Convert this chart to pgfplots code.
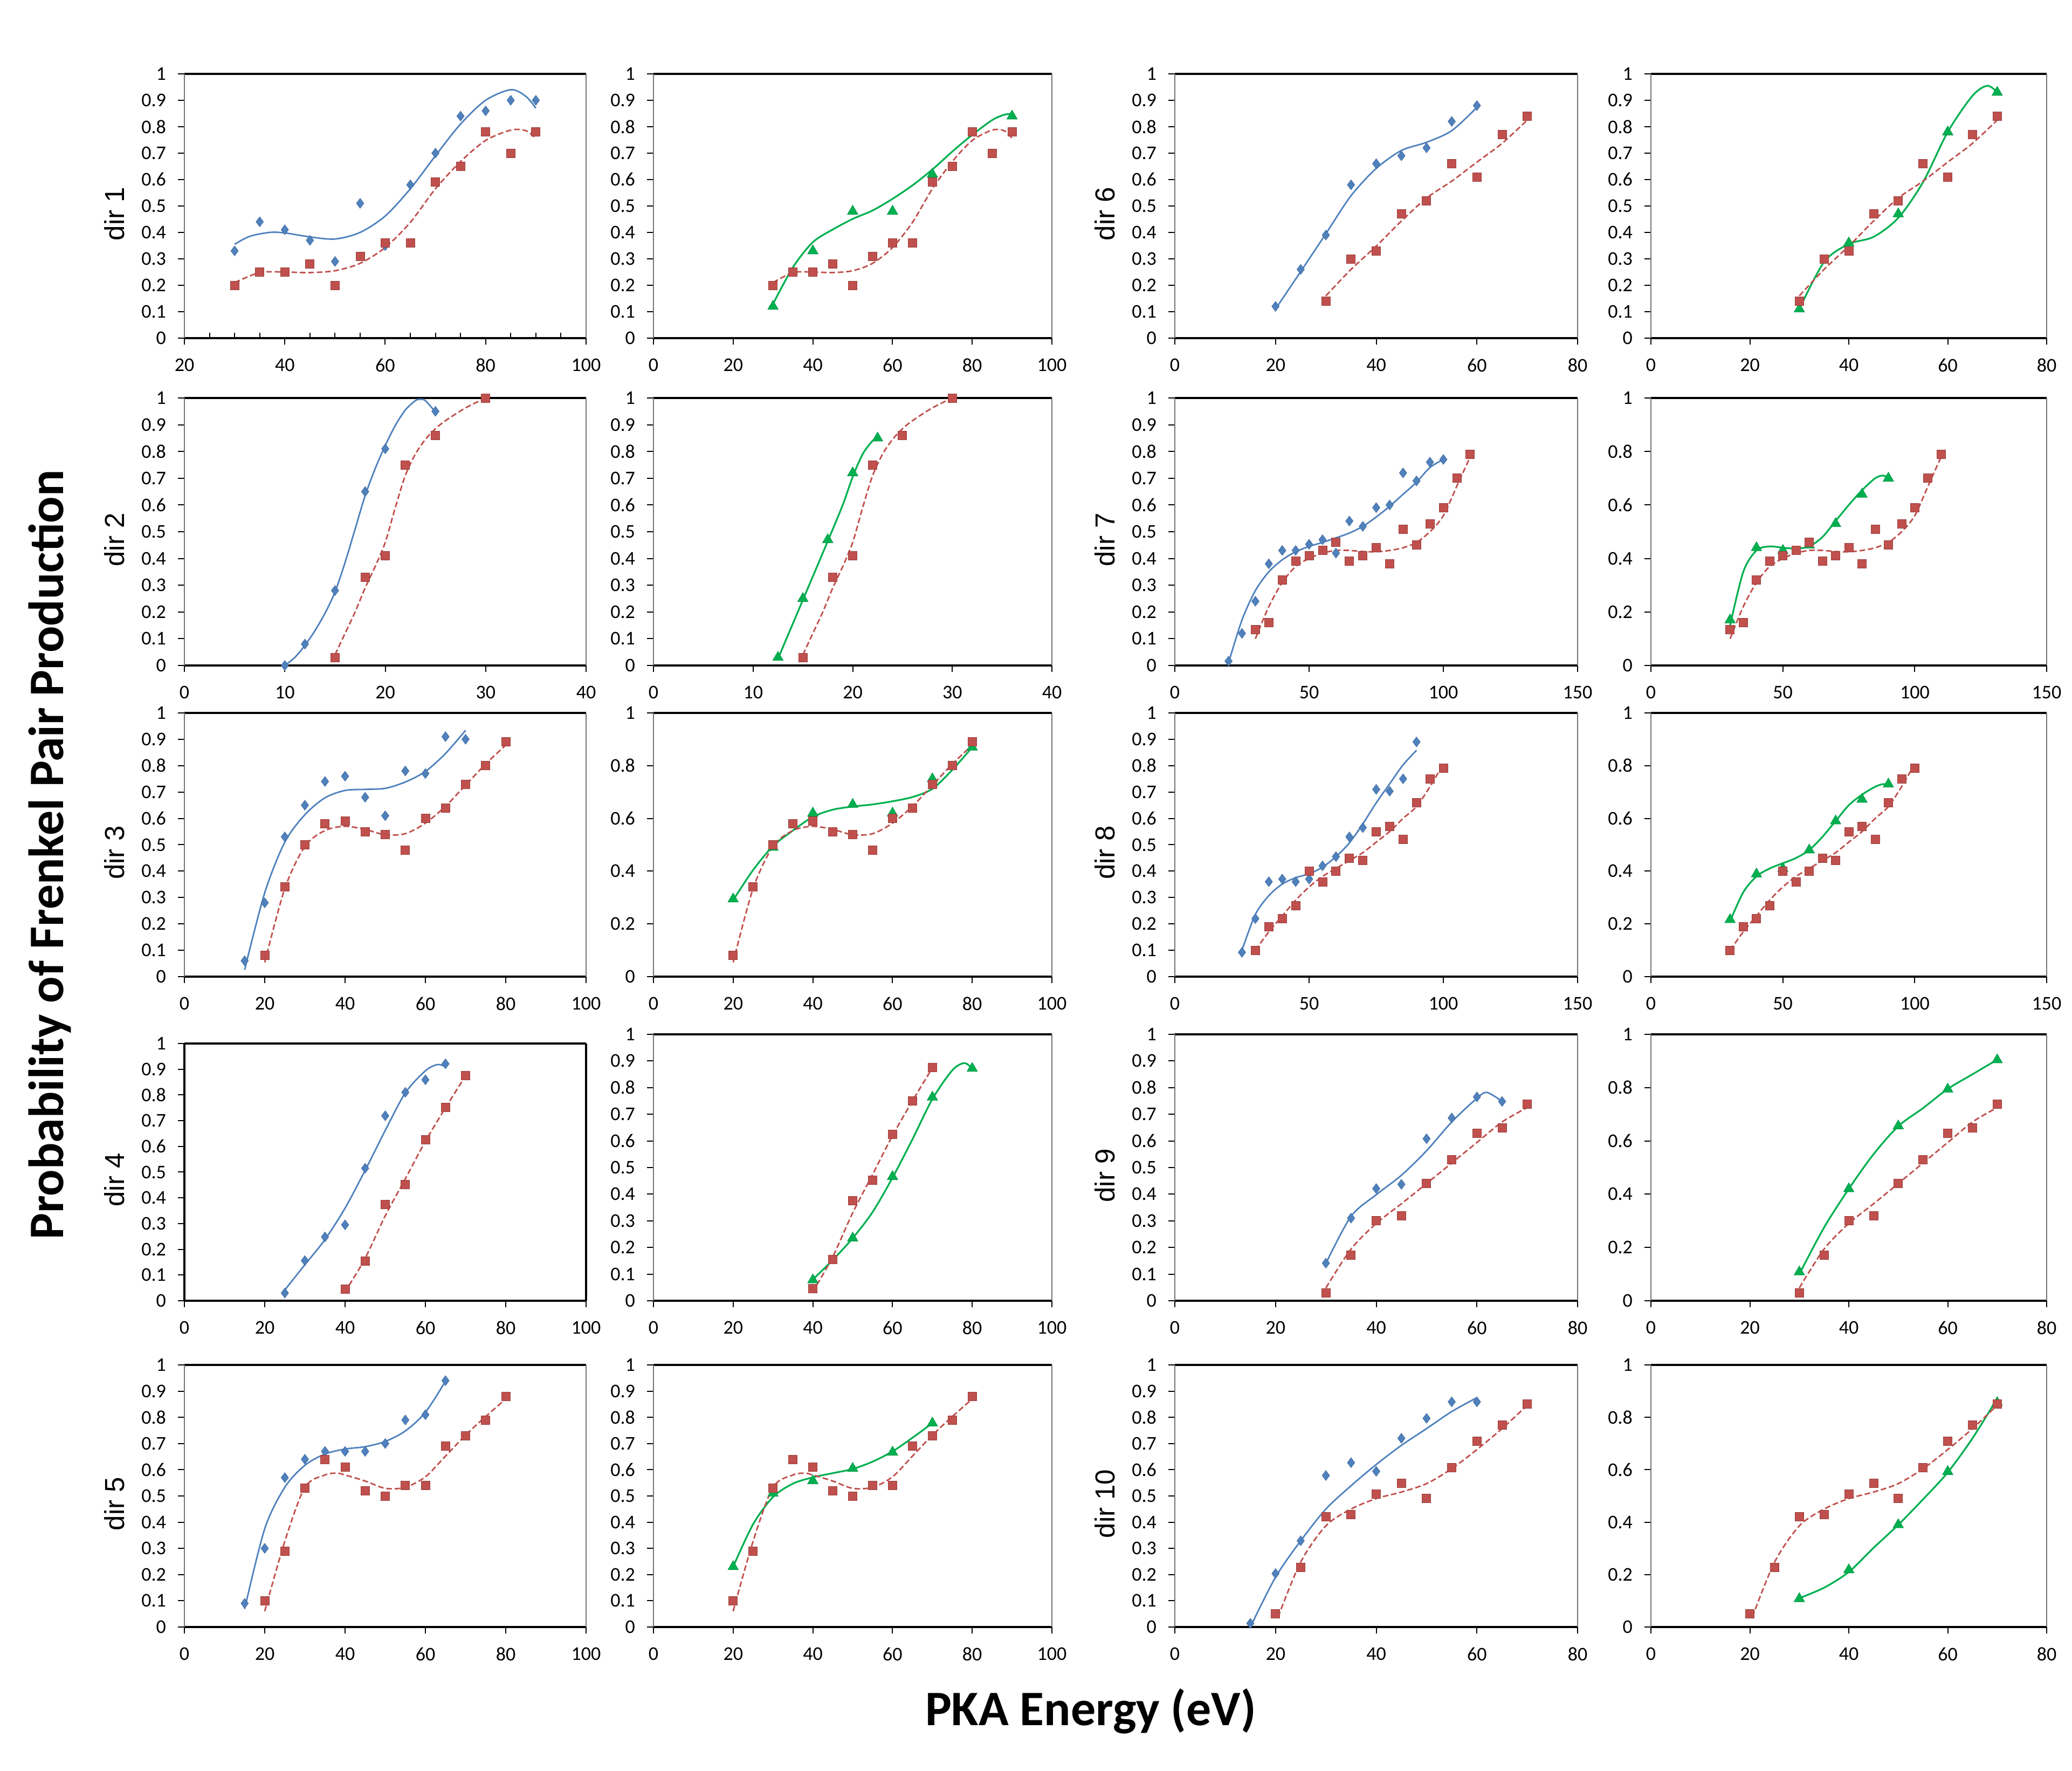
\documentclass[border=0pt]{standalone}
\usepackage{pgfplots}
\pgfplotsset{compat=1.18}
\usepackage{pgfplotstable}
\usepackage{fontspec}
\setmainfont{Carlito}
\newfontfamily\arialf{Liberation Sans}
\definecolor{xblue}{HTML}{4F81BD}
\definecolor{xred}{HTML}{C0504D}
\definecolor{xgreen}{HTML}{00B050}
\newcommand\tickf{\fontsize{9pt}{10pt}\selectfont}
\newcommand\dirf{\arialf\fontsize{12.75pt}{14pt}\selectfont}
\newcommand\mainf{\bfseries\fontsize{23pt}{27pt}\selectfont}

% ---------------- dir 1 ----------------
\pgfplotstableread{
x y
30 0.33
35 0.44
40 0.41
45 0.37
50 0.29
55 0.51
60 0.35
65 0.58
70 0.70
75 0.84
80 0.86
85 0.90
90 0.90
}\bluA
\pgfplotstableread{
x y
30 0.355
33 0.385
37 0.40
40 0.398
45 0.383
50 0.375
55 0.400
60 0.462
65 0.565
70 0.69
75 0.81
80 0.90
85 0.94
88 0.915
90 0.87
}\bluAc
\pgfplotstableread{
x y
30 0.20
35 0.25
40 0.25
45 0.28
50 0.20
55 0.31
60 0.36
65 0.36
70 0.59
75 0.65
80 0.78
85 0.70
90 0.78
}\redA
\pgfplotstableread{
x y
30 0.21
35 0.248
40 0.25
45 0.248
50 0.255
55 0.283
60 0.343
65 0.438
70 0.565
75 0.668
80 0.748
85 0.787
88 0.785
90 0.756
}\redAc
\pgfplotstableread{
x y
30 0.12
40 0.33
50 0.48
60 0.48
70 0.62
90 0.84
}\grnA
\pgfplotstableread{
x y
30 0.129
35 0.268
40 0.363
45 0.411
50 0.451
55 0.483
60 0.527
65 0.578
70 0.638
75 0.706
80 0.769
85 0.825
88 0.845
90 0.849
}\grnAc
% ---------------- dir 2 ----------------
\pgfplotstableread{
x y
10 0.00
12 0.08
15 0.28
18 0.65
20 0.81
25 0.95
}\bluB
\pgfplotstableread{
x y
10 0.00
11 0.03
12 0.075
13 0.13
14 0.195
15 0.275
16 0.385
17 0.51
18 0.635
19 0.736
20 0.822
21 0.897
22 0.955
23 0.99
23.5 0.995
24 0.99
25 0.947
}\bluBc
\pgfplotstableread{
x y
15 0.03
18 0.33
20 0.41
22 0.75
25 0.86
30 1.00
}\redB
\pgfplotstableread{
x y
15 0.04
16 0.12
17 0.20
18 0.29
19 0.37
20 0.46
21 0.59
22 0.71
23 0.79
24 0.845
25 0.885
26 0.915
28 0.963
30 1.00
}\redBc
\pgfplotstableread{
x y
12.5 0.03
15 0.25
17.5 0.47
20 0.72
22.5 0.85
}\grnB
\pgfplotstableread{
x y
12.5 0.025
15 0.245
17.5 0.465
19 0.60
20 0.705
21 0.79
22 0.84
22.5 0.85
}\grnBc
% ---------------- dir 3 ----------------
\pgfplotstableread{
x y
15 0.06
20 0.28
25 0.53
30 0.65
35 0.74
40 0.76
45 0.68
50 0.61
55 0.78
60 0.77
65 0.91
70 0.90
}\bluC
\pgfplotstableread{
x y
15 0.026
20 0.318
25 0.51
30 0.614
35 0.678
40 0.706
45 0.71
50 0.714
55 0.738
60 0.778
65 0.846
70 0.934
}\bluCc
\pgfplotstableread{
x y
20 0.08
25 0.34
30 0.50
35 0.58
40 0.59
45 0.55
50 0.54
55 0.48
60 0.60
65 0.64
70 0.73
75 0.80
80 0.89
}\redC
\pgfplotstableread{
x y
20 0.054
25 0.334
30 0.494
35 0.554
40 0.57
45 0.558
50 0.538
55 0.542
60 0.582
65 0.646
70 0.726
75 0.806
80 0.878
}\redCc
\pgfplotstableread{
x y
20 0.294
30 0.49
40 0.62
50 0.653
60 0.62
70 0.75
80 0.87
}\grnC
\pgfplotstableread{
x y
20 0.29
25 0.404
30 0.495
35 0.554
40 0.606
45 0.633
50 0.645
55 0.653
60 0.665
65 0.681
70 0.712
75 0.784
80 0.87
}\grnCc
% ---------------- dir 4 ----------------
\pgfplotstableread{
x y
25 0.03
30 0.156
35 0.248
40 0.295
45 0.515
50 0.719
55 0.81
60 0.859
65 0.921
}\bluD
\pgfplotstableread{
x y
25 0.042
30 0.14
35 0.238
40 0.36
45 0.507
50 0.662
55 0.808
60 0.894
63 0.918
65 0.91
}\bluDc
\pgfplotstableread{
x y
40 0.046
45 0.155
50 0.375
55 0.452
60 0.625
65 0.751
70 0.875
}\redD
\pgfplotstableread{
x y
41 0.06
45 0.165
50 0.33
55 0.474
60 0.62
65 0.75
70 0.874
}\redDc
\pgfplotstableread{
x y
40 0.078
50 0.235
60 0.466
70 0.764
80 0.872
}\grnD
\pgfplotstableread{
x y
40 0.08
45 0.153
50 0.235
55 0.333
60 0.462
65 0.606
70 0.757
75 0.865
78 0.892
80 0.872
}\grnDc
% ---------------- dir 5 ----------------
\pgfplotstableread{
x y
15 0.09
20 0.30
25 0.57
30 0.64
35 0.67
40 0.67
45 0.67
50 0.70
55 0.79
60 0.81
65 0.94
}\bluE
\pgfplotstableread{
x y
15 0.069
20 0.375
25 0.533
30 0.617
35 0.66
40 0.679
45 0.688
50 0.708
55 0.748
60 0.819
65 0.938
}\bluEc
\pgfplotstableread{
x y
20 0.10
25 0.29
30 0.53
35 0.64
40 0.61
45 0.52
50 0.50
55 0.54
60 0.54
65 0.69
70 0.73
75 0.79
80 0.88
}\redE
\pgfplotstableread{
x y
20 0.06
25 0.327
30 0.533
35 0.58
38 0.587
40 0.58
45 0.557
50 0.529
55 0.533
60 0.573
65 0.652
70 0.732
75 0.803
80 0.87
}\redEc
\pgfplotstableread{
x y
20 0.23
30 0.51
40 0.558
50 0.605
60 0.667
70 0.778
}\grnE
\pgfplotstableread{
x y
20 0.23
25 0.392
30 0.496
35 0.547
40 0.571
45 0.587
50 0.603
55 0.631
60 0.67
65 0.722
70 0.778
}\grnEc
% ---------------- dir 6 ----------------
\pgfplotstableread{
x y
20 0.12
25 0.26
30 0.39
35 0.58
40 0.66
45 0.69
50 0.72
55 0.82
60 0.88
}\bluF
\pgfplotstableread{
x y
20 0.11
25 0.252
30 0.395
35 0.539
40 0.642
45 0.71
50 0.741
55 0.785
60 0.873
}\bluFc
\pgfplotstableread{
x y
30 0.14
35 0.30
40 0.33
45 0.47
50 0.52
55 0.66
60 0.61
65 0.77
70 0.84
}\redF
\pgfplotstableread{
x y
30 0.16
35 0.26
40 0.348
45 0.443
50 0.53
55 0.594
60 0.666
65 0.737
70 0.825
}\redFc
\pgfplotstableread{
x y
30 0.11
40 0.36
50 0.47
60 0.78
70 0.93
}\grnF
\pgfplotstableread{
x y
30 0.11
35 0.288
40 0.356
45 0.383
50 0.455
55 0.59
60 0.78
65 0.917
68 0.955
70 0.93
}\grnFc
% ---------------- dir 7 ----------------
\pgfplotstableread{
x y
20 0.016
25 0.12
30 0.24
35 0.38
40 0.43
45 0.43
50 0.453
55 0.47
60 0.42
65 0.54
70 0.52
75 0.59
80 0.60
85 0.72
90 0.69
95 0.76
100 0.77
}\bluG
\pgfplotstableread{
x y
20 0.01
25 0.17
30 0.28
35 0.35
40 0.395
45 0.425
50 0.445
55 0.46
60 0.477
65 0.495
70 0.52
75 0.555
80 0.595
85 0.64
90 0.685
95 0.74
100 0.77
}\bluGc
\pgfplotstableread{
x y
30 0.134
35 0.16
40 0.32
45 0.39
50 0.41
55 0.43
60 0.46
65 0.39
70 0.41
75 0.44
80 0.38
85 0.51
90 0.45
95 0.53
100 0.59
105 0.70
110 0.79
}\redG
\pgfplotstableread{
x y
30 0.10
35 0.22
40 0.31
45 0.37
50 0.40
55 0.42
60 0.43
65 0.43
70 0.426
75 0.425
80 0.43
85 0.44
90 0.46
95 0.50
100 0.56
105 0.67
110 0.78
}\redGc
\pgfplotstableread{
x y
30 0.17
40 0.44
50 0.43
60 0.45
70 0.53
80 0.64
90 0.70
}\grnG
\pgfplotstableread{
x y
30 0.15
35 0.35
40 0.43
45 0.445
50 0.44
55 0.437
60 0.445
65 0.48
70 0.54
75 0.60
80 0.655
85 0.70
88 0.71
90 0.70
}\grnGc
% ---------------- dir 8 ----------------
\pgfplotstableread{
x y
25 0.092
30 0.22
35 0.36
40 0.37
45 0.36
50 0.37
55 0.42
60 0.455
65 0.53
70 0.565
75 0.71
80 0.703
85 0.75
90 0.89
}\bluH
\pgfplotstableread{
x y
25 0.10
30 0.236
35 0.307
40 0.351
45 0.375
50 0.39
55 0.415
60 0.455
65 0.507
70 0.579
75 0.659
80 0.731
85 0.803
90 0.858
}\bluHc
\pgfplotstableread{
x y
30 0.10
35 0.19
40 0.22
45 0.27
50 0.40
55 0.36
60 0.40
65 0.45
70 0.44
75 0.55
80 0.57
85 0.52
90 0.66
95 0.75
100 0.79
}\redH
\pgfplotstableread{
x y
30 0.10
35 0.17
40 0.23
45 0.29
50 0.34
55 0.38
60 0.41
65 0.44
70 0.47
75 0.51
80 0.55
85 0.60
90 0.645
95 0.72
100 0.807
}\redHc
\pgfplotstableread{
x y
30 0.216
40 0.389
50 0.41
60 0.48
70 0.59
80 0.672
90 0.73
}\grnH
\pgfplotstableread{
x y
30 0.21
35 0.32
40 0.38
45 0.41
50 0.43
55 0.45
60 0.48
65 0.53
70 0.59
75 0.65
80 0.69
85 0.72
88 0.73
90 0.725
}\grnHc
% ---------------- dir 9 ----------------
\pgfplotstableread{
x y
30 0.141
35 0.31
40 0.421
45 0.437
50 0.608
55 0.686
60 0.765
65 0.748
}\bluI
\pgfplotstableread{
x y
30 0.14
35 0.317
40 0.398
45 0.471
50 0.563
55 0.671
60 0.76
62 0.782
65 0.748
}\bluIc
\pgfplotstableread{
x y
30 0.03
35 0.171
40 0.30
45 0.319
50 0.44
55 0.529
60 0.629
65 0.648
70 0.738
}\redI
\pgfplotstableread{
x y
30 0.048
35 0.194
40 0.29
45 0.364
50 0.44
55 0.517
60 0.594
65 0.671
70 0.725
}\redIc
\pgfplotstableread{
x y
30 0.108
40 0.42
50 0.656
60 0.794
70 0.904
}\grnI
\pgfplotstableread{
x y
30 0.10
35 0.275
40 0.42
45 0.55
50 0.655
55 0.723
60 0.795
65 0.85
70 0.905
}\grnIc
% ---------------- dir 10 ----------------
\pgfplotstableread{
x y
15 0.014
20 0.204
25 0.329
30 0.578
35 0.627
40 0.594
45 0.72
50 0.796
55 0.859
60 0.859
}\bluJ
\pgfplotstableread{
x y
15 0.00
20 0.19
25 0.329
30 0.45
35 0.539
40 0.62
45 0.693
50 0.757
55 0.822
60 0.875
}\bluJc
\pgfplotstableread{
x y
20 0.05
25 0.228
30 0.42
35 0.43
40 0.508
45 0.549
50 0.49
55 0.608
60 0.709
65 0.77
70 0.85
}\redJ
\pgfplotstableread{
x y
20.5 0.038
25 0.248
30 0.386
35 0.45
40 0.49
45 0.515
50 0.547
55 0.604
60 0.677
65 0.757
70 0.846
}\redJc
\pgfplotstableread{
x y
30 0.108
40 0.218
50 0.39
60 0.593
70 0.856
}\grnJ
\pgfplotstableread{
x y
30 0.11
35 0.15
40 0.21
45 0.302
50 0.39
55 0.487
60 0.59
65 0.72
70 0.872
}\grnJc

\pgfplotsset{
  panel/.style={
    scale only axis, anchor=south west, clip=false,
    ymin=0, ymax=1,
    separate axis lines,
    every outer x axis line/.append style={black, line width=0.9pt},
    every outer y axis line/.append style={black!55, line width=0.45pt},
    xtick pos=left, ytick pos=left,
    tick align=outside, major tick length=3pt,
    tick style={black, line width=0.5pt},
    ticklabel style={font=\tickf},
    yticklabel style={xshift=-2pt},
    xticklabel style={yshift=-3pt},
    /pgf/number format/assume math mode=true,
    ylabel style={at={(axis description cs:-0.174,0.47)}, anchor=center, font=\dirf},
  },
  yta/.style={ytick={0,0.1,0.2,0.3,0.4,0.5,0.6,0.7,0.8,0.9,1},
              yticklabels={0,0.1,0.2,0.3,0.4,0.5,0.6,0.7,0.8,0.9,1}},
  ytb/.style={ytick={0,0.2,0.4,0.6,0.8,1},
              yticklabels={0,0.2,0.4,0.6,0.8,1}},
  xa/.style={xmin=0, xmax=100, xtick={0,20,40,60,80,100}},
  xb/.style={xmin=0, xmax=80, xtick={0,20,40,60,80}},
  xc/.style={xmin=0, xmax=40, xtick={0,10,20,30,40}},
  xd/.style={xmin=0, xmax=150, xtick={0,50,100,150}},
  bpt/.style={only marks, mark=diamond*, mark size=2.3pt,
    mark options={fill=xblue, draw=xblue!85!black, line width=0.2pt}},
  rpt/.style={only marks, mark=square*, mark size=2pt,
    mark options={fill=xred, draw=xred!80!black, line width=0.2pt}},
  gpt/.style={only marks, mark=triangle*, mark size=2.8pt,
    mark options={fill=xgreen, draw=xgreen!85!black, line width=0.2pt}},
  bcur/.style={no marks, smooth, xblue, line width=0.7pt},
  rcur/.style={no marks, smooth, xred, line width=0.7pt, dash pattern=on 2.6pt off 1.3pt},
  gcur/.style={no marks, smooth, xgreen, line width=0.8pt},
}

\begin{document}
\begin{tikzpicture}
\path (0,0) rectangle (960.75pt,821pt);

% ================= ROW 1 =================
\begin{axis}[panel, yta, at={(85.5pt,664.25pt)}, width=186.25pt, height=122.5pt,
  xmin=20, xmax=100, xtick={20,40,60,80,100},
  extra x ticks={25,30,35,45,50,55,65,70,75,85,90,95}, extra x tick labels={},
  extra x tick style={tick align=inside, major tick length=2.5pt},
  ylabel={dir 1}]
\addplot[bcur] table {\bluAc};
\addplot[rcur] table {\redAc};
\addplot[bpt] table {\bluA};
\addplot[rpt] table {\redA};
\end{axis}
\begin{axis}[panel, yta, xa, at={(303pt,664.25pt)}, width=184.75pt, height=122.5pt]
\addplot[gcur] table {\grnAc};
\addplot[rcur] table {\redAc};
\addplot[gpt] table {\grnA};
\addplot[rpt] table {\redA};
\end{axis}
\begin{axis}[panel, yta, xb, at={(544.75pt,664.25pt)}, width=186.75pt, height=122.5pt, ylabel={dir 6}]
\addplot[bcur] table {\bluFc};
\addplot[rcur] table {\redFc};
\addplot[bpt] table {\bluF};
\addplot[rpt] table {\redF};
\end{axis}
\begin{axis}[panel, yta, xb, at={(765.5pt,664.25pt)}, width=183.5pt, height=122.5pt]
\addplot[gcur] table {\grnFc};
\addplot[rcur] table {\redFc};
\addplot[gpt] table {\grnF};
\addplot[rpt] table {\redF};
\end{axis}

% ================= ROW 2 =================
\begin{axis}[panel, yta, xc, at={(85.5pt,512.5pt)}, width=186.25pt, height=124pt, ylabel={dir 2}]
\addplot[bcur] table {\bluBc};
\addplot[rcur] table {\redBc};
\addplot[bpt] table {\bluB};
\addplot[rpt] table {\redB};
\end{axis}
\begin{axis}[panel, yta, xc, at={(303pt,512.5pt)}, width=184.75pt, height=124pt]
\addplot[gcur] table {\grnBc};
\addplot[rcur] table {\redBc};
\addplot[gpt] table {\grnB};
\addplot[rpt] table {\redB};
\end{axis}
\begin{axis}[panel, yta, xd, at={(544.75pt,512.5pt)}, width=186.75pt, height=124pt, ylabel={dir 7}]
\addplot[bcur] table {\bluGc};
\addplot[rcur] table {\redGc};
\addplot[bpt] table {\bluG};
\addplot[rpt] table {\redG};
\end{axis}
\begin{axis}[panel, ytb, xd, at={(765.5pt,512.5pt)}, width=183.5pt, height=124pt]
\addplot[gcur] table {\grnGc};
\addplot[rcur] table {\redGc};
\addplot[gpt] table {\grnG};
\addplot[rpt] table {\redG};
\end{axis}

% ================= ROW 3 =================
\begin{axis}[panel, yta, xa, at={(85.5pt,368.25pt)}, width=186.25pt, height=122.25pt, ylabel={dir 3}]
\addplot[bcur] table {\bluCc};
\addplot[rcur] table {\redCc};
\addplot[bpt] table {\bluC};
\addplot[rpt] table {\redC};
\end{axis}
\begin{axis}[panel, ytb, xa, at={(303pt,368.25pt)}, width=184.75pt, height=122.25pt]
\addplot[gcur] table {\grnCc};
\addplot[rcur] table {\redCc};
\addplot[gpt] table {\grnC};
\addplot[rpt] table {\redC};
\end{axis}
\begin{axis}[panel, yta, xd, at={(544.75pt,368.25pt)}, width=186.75pt, height=122.25pt, ylabel={dir 8}]
\addplot[bcur] table {\bluHc};
\addplot[rcur] table {\redHc};
\addplot[bpt] table {\bluH};
\addplot[rpt] table {\redH};
\end{axis}
\begin{axis}[panel, ytb, xd, at={(765.5pt,368.25pt)}, width=183.5pt, height=122.25pt]
\addplot[gcur] table {\grnHc};
\addplot[rcur] table {\redHc};
\addplot[gpt] table {\grnH};
\addplot[rpt] table {\redH};
\end{axis}

% ================= ROW 4 =================
\begin{axis}[panel, yta, xa, at={(85.5pt,218pt)}, width=186.25pt, height=119.25pt, ylabel={dir 4},
  every outer y axis line/.append style={black, line width=0.9pt}]
\addplot[bcur] table {\bluDc};
\addplot[rcur] table {\redDc};
\addplot[bpt] table {\bluD};
\addplot[rpt] table {\redD};
\end{axis}
\begin{axis}[panel, yta, xa, at={(303pt,218pt)}, width=184.75pt, height=123.5pt]
\addplot[gcur] table {\grnDc};
\addplot[rcur] table {\redDc};
\addplot[gpt] table {\grnD};
\addplot[rpt] table {\redD};
\end{axis}
\begin{axis}[panel, yta, xb, at={(544.75pt,218pt)}, width=186.75pt, height=123.5pt, ylabel={dir 9}]
\addplot[bcur] table {\bluIc};
\addplot[rcur] table {\redIc};
\addplot[bpt] table {\bluI};
\addplot[rpt] table {\redI};
\end{axis}
\begin{axis}[panel, ytb, xb, at={(765.5pt,218pt)}, width=183.5pt, height=123.5pt]
\addplot[gcur] table {\grnIc};
\addplot[rcur] table {\redIc};
\addplot[gpt] table {\grnI};
\addplot[rpt] table {\redI};
\end{axis}

% ================= ROW 5 =================
\begin{axis}[panel, yta, xa, at={(85.5pt,66.75pt)}, width=186.25pt, height=121.5pt, ylabel={dir 5}]
\addplot[bcur] table {\bluEc};
\addplot[rcur] table {\redEc};
\addplot[bpt] table {\bluE};
\addplot[rpt] table {\redE};
\end{axis}
\begin{axis}[panel, yta, xa, at={(303pt,66.75pt)}, width=184.75pt, height=121.5pt]
\addplot[gcur] table {\grnEc};
\addplot[rcur] table {\redEc};
\addplot[gpt] table {\grnE};
\addplot[rpt] table {\redE};
\end{axis}
\begin{axis}[panel, yta, xb, at={(544.75pt,66.75pt)}, width=186.75pt, height=121.5pt, ylabel={dir 10}]
\addplot[bcur] table {\bluJc};
\addplot[rcur] table {\redJc};
\addplot[bpt] table {\bluJ};
\addplot[rpt] table {\redJ};
\end{axis}
\begin{axis}[panel, ytb, xb, at={(765.5pt,66.75pt)}, width=183.5pt, height=121.5pt]
\addplot[gcur] table {\grnJc};
\addplot[rcur] table {\redJc};
\addplot[gpt] table {\grnJ};
\addplot[rpt] table {\redJ};
\end{axis}

\node[rotate=90, anchor=base, font=\mainf] at (29.25pt,424.75pt) {Probability of Frenkel Pair Production};
\node[anchor=base, font=\mainf] at (505.75pt,21pt) {PKA Energy (eV)};
\end{tikzpicture}
\end{document}
